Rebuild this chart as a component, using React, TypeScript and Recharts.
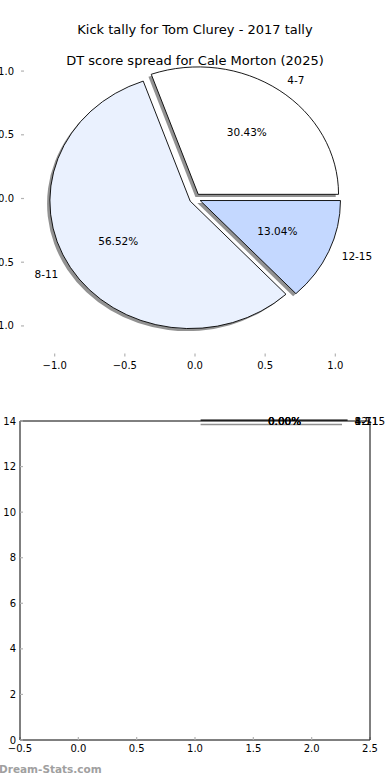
import React from "react";
import {
  ScatterChart, Scatter, XAxis, YAxis, PieChart, Pie, Cell, ReferenceLine, ReferenceDot,
} from "recharts";

// top panel: kick tally pie
const sliceLabels = ["4-7", "8-11", "12-15"];
const sliceCounts = [7, 13, 3];
const sliceColors = ["#ffffff", "#eaf1fe", "#c4d8ff"];
const pieTicks = [-1, -0.5, 0, 0.5, 1];
const pieDomain: [number, number] = [-1.24, 1.24];

// bottom panel: empty axes with a collapsed pie on its top edge
const flatLabels = ["4-7", "8-11", "12-15"];
const flatPercents = [0, 0, 0];
const flatCenter = { x: 1.0, y: 14 };
const flatRadius = 1.2;
const bottomXTicks = [-0.5, 0, 0.5, 1, 1.5, 2, 2.5];
const bottomYTicks = [0, 2, 4, 6, 8, 10, 12, 14];

const W = 390;
const H = 380;
const TOP = { left: 21, right: 21, top: 40.5, bottom: 356.5 };
const RX = (W - TOP.left - TOP.right) / (pieDomain[1] - pieDomain[0]);
const RY = (TOP.bottom - TOP.top) / (pieDomain[1] - pieDomain[0]);
const EXPLODE = 0.04;
const RAD = Math.PI / 180;
const GRAY_TICK = { stroke: "#b3b3b3", strokeWidth: 1.2 };
const TICK_TXT = { fill: "#000", fontSize: 10 };

const pieData = sliceLabels.map((label, i) => ({ label, value: sliceCounts[i] }));
const fmt1 = (v: number) => (v < 0 ? "\u2212" : "") + Math.abs(v).toFixed(1);

function wedge(cx: number, cy: number, rx: number, ry: number, a0: number, a1: number) {
  const x0 = cx + rx * Math.cos(a0 * RAD);
  const y0 = cy - ry * Math.sin(a0 * RAD);
  const x1 = cx + rx * Math.cos(a1 * RAD);
  const y1 = cy - ry * Math.sin(a1 * RAD);
  const large = a1 - a0 > 180 ? 1 : 0;
  return `M${cx},${cy} L${x0},${y0} A${rx},${ry} 0 ${large} 0 ${x1},${y1} Z`;
}

function explodedCenter(p: any) {
  const ry = p.outerRadius * (RY / RX);
  const m = p.midAngle * RAD;
  return {
    ox: p.cx + EXPLODE * p.outerRadius * Math.cos(m),
    oy: p.cy - EXPLODE * ry * Math.sin(m),
    rx: p.outerRadius,
    ry,
  };
}

const SliceShape = (p: any) => {
  const { ox, oy, rx, ry } = explodedCenter(p);
  return (
    <path d={wedge(ox, oy, rx, ry, p.startAngle, p.endAngle)} fill={p.fill} stroke="#000" strokeWidth={0.9} />
  );
};

const ShadowShape = (p: any) => {
  const { ox, oy, rx, ry } = explodedCenter(p);
  return (
    <path
      d={wedge(ox - 0.02 * rx, oy + 0.02 * ry, rx, ry, p.startAngle, p.endAngle)}
      fill="#4a4a4a"
      fillOpacity={0.6}
      stroke="none"
    />
  );
};

const renderPieLabel = (p: any) => {
  const { ox, oy, rx, ry } = explodedCenter(p);
  const c = Math.cos(p.midAngle * RAD);
  const s = Math.sin(p.midAngle * RAD);
  return (
    <g>
      <text x={ox + 1.1 * rx * c} y={oy - 1.1 * ry * s} textAnchor={c >= 0 ? "start" : "end"}
        dominantBaseline="central" fontSize={10.5} fill="#000">{p.name}</text>
      <text x={ox + 0.6 * rx * c} y={oy - 0.6 * ry * s} textAnchor="middle"
        dominantBaseline="central" fontSize={10.5} fill="#000">{(p.percent * 100).toFixed(2)}%</text>
    </g>
  );
};

function TopPanel() {
  return (
    <div style={{ position: "absolute", left: 0, top: 0, width: W, height: H }}>
      <div style={{ position: "absolute", left: 0, top: 0 }}>
        <ScatterChart width={W} height={H} margin={{ top: 30.5, right: 0, bottom: 3.5, left: 0 }}>
          <XAxis xAxisId="b" type="number" dataKey="x" domain={pieDomain} ticks={pieTicks} height={20}
            axisLine={false} tickLine={GRAY_TICK} tickSize={-3} tickMargin={8} tick={TICK_TXT}
            tickFormatter={fmt1} allowDataOverflow />
          <XAxis xAxisId="t" orientation="top" type="number" dataKey="x" domain={pieDomain} ticks={pieTicks}
            height={10} axisLine={false} tickLine={GRAY_TICK} tickSize={-3} tick={false} allowDataOverflow />
          <YAxis yAxisId="l" type="number" dataKey="y" domain={pieDomain} ticks={pieTicks} width={21}
            axisLine={false} tickLine={GRAY_TICK} tickSize={-3} tickMargin={10} tick={TICK_TXT}
            tickFormatter={fmt1} allowDataOverflow />
          <YAxis yAxisId="r" orientation="right" type="number" dataKey="y" domain={pieDomain} ticks={pieTicks}
            width={21} axisLine={false} tickLine={GRAY_TICK} tickSize={-3} tick={false} allowDataOverflow />
          <Scatter xAxisId="b" yAxisId="l" data={[]} isAnimationActive={false} />
          <Scatter xAxisId="t" yAxisId="r" data={[]} isAnimationActive={false} />
        </ScatterChart>
      </div>
      <div style={{ position: "absolute", left: 0, top: 0 }}>
        <PieChart width={W} height={H} margin={{ top: 0, right: 0, bottom: 0, left: 0 }}>
          <Pie data={pieData} dataKey="value" nameKey="label" cx={TOP.left + RX * -pieDomain[0]}
            cy={TOP.top + RY * pieDomain[1]} innerRadius={0} outerRadius={RX} startAngle={0} endAngle={360}
            shape={ShadowShape} inactiveShape={ShadowShape} activeShape={ShadowShape}
            label={false} labelLine={false} isAnimationActive={false} />
          <Pie data={pieData} dataKey="value" nameKey="label" cx={TOP.left + RX * -pieDomain[0]}
            cy={TOP.top + RY * pieDomain[1]} innerRadius={0} outerRadius={RX} startAngle={0} endAngle={360}
            shape={SliceShape} inactiveShape={SliceShape} activeShape={SliceShape}
            label={renderPieLabel} labelLine={false} isAnimationActive={false}>
            {pieData.map((d, i) => (
              <Cell key={d.label} fill={sliceColors[i]} />
            ))}
          </Pie>
        </PieChart>
      </div>
      <div style={{ position: "absolute", left: 0, width: W, top: 21, textAlign: "center", fontSize: 13, lineHeight: "17px" }}>
        Kick tally for Tom Clurey - 2017 tally
      </div>
      <div style={{ position: "absolute", left: 0, width: W, top: 52, textAlign: "center", fontSize: 13, lineHeight: "17px" }}>
        DT score spread for Cale Morton (2025)
      </div>
    </div>
  );
}

function BottomPanel() {
  const shadowDy = -0.15;
  const cx = flatCenter.x + EXPLODE * flatRadius;
  return (
    <div style={{ position: "absolute", left: 0, top: 390, width: W, height: H }}>
      <ScatterChart width={W} height={H} margin={{ top: 21, right: 0, bottom: 0, left: 0 }}>
        <XAxis type="number" dataKey="x" domain={[-0.5, 2.5]} ticks={bottomXTicks} height={30}
          axisLine={{ stroke: "#000" }} tickLine={GRAY_TICK} tickSize={-3} tickMargin={7.5} tick={TICK_TXT}
          tickFormatter={fmt1} allowDataOverflow />
        <XAxis xAxisId="t" orientation="top" type="number" dataKey="x" domain={[-0.5, 2.5]} ticks={bottomXTicks}
          height={10} axisLine={{ stroke: "#000" }} tickLine={GRAY_TICK} tickSize={-3} tick={false} allowDataOverflow />
        <YAxis type="number" dataKey="y" domain={[0, 14]} ticks={bottomYTicks} width={20}
          axisLine={{ stroke: "#000" }} tickLine={GRAY_TICK} tickSize={-3} tickMargin={7} tick={TICK_TXT}
          allowDataOverflow />
        <YAxis yAxisId="r" orientation="right" type="number" dataKey="y" domain={[0, 14]} ticks={bottomYTicks}
          width={20} axisLine={{ stroke: "#000" }} tickLine={GRAY_TICK} tickSize={-3} tick={false} allowDataOverflow />
        <Scatter data={[]} isAnimationActive={false} />
        <Scatter xAxisId="t" yAxisId="r" data={[]} isAnimationActive={false} />
        <ReferenceLine
          segment={[{ x: cx, y: flatCenter.y + shadowDy }, { x: cx + flatRadius * 1.01, y: flatCenter.y + shadowDy }]}
          stroke="#8f8f8f" strokeWidth={1.5} ifOverflow="visible" />
        <ReferenceLine
          segment={[{ x: cx, y: flatCenter.y + 0.04 }, { x: cx + flatRadius * 1.05, y: flatCenter.y + 0.04 }]}
          stroke="#000" strokeWidth={1.2} ifOverflow="visible" />
        {flatLabels.map((name, i) => (
          <ReferenceDot key={"p" + name} x={cx + 0.6 * flatRadius} y={flatCenter.y} r={0}
            fill="none" stroke="none" ifOverflow="visible"
            label={{ value: flatPercents[i].toFixed(2) + "%", position: "center", fill: "#000", fontSize: 10.5 }} />
        ))}
        {flatLabels.map((name) => (
          <ReferenceDot key={"n" + name} x={cx + 1.1 * flatRadius} y={flatCenter.y} r={0}
            fill="none" stroke="none" ifOverflow="visible"
            label={{ value: name, position: "right", offset: 0, fill: "#000", fontSize: 10.5 }} />
        ))}
      </ScatterChart>
    </div>
  );
}

export default function App() {
  return (
    <div style={{ position: "absolute", left: 0, top: 0, width: W, height: 780, background: "#fff",
      fontFamily: "'DejaVu Sans', sans-serif", overflow: "hidden" }}>
      <TopPanel />
      <BottomPanel />
      <div style={{ position: "absolute", left: -1, top: 763, fontSize: 10.5, fontWeight: "bold", color: "#a0a0a0" }}>
        Dream-Stats.com
      </div>
    </div>
  );
}
